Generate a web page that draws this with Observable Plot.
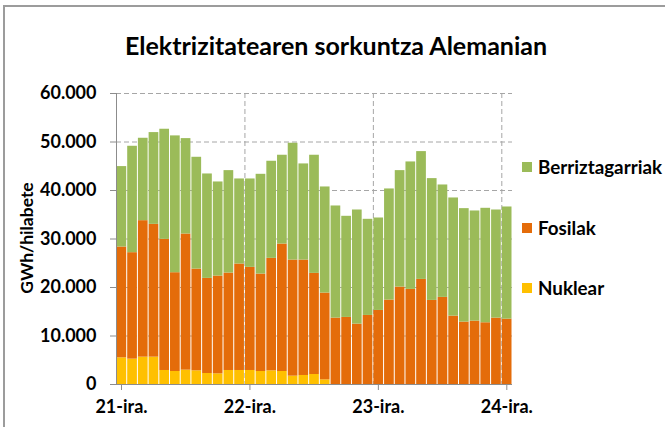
<!DOCTYPE html>
<html><head><meta charset="utf-8">
<script src="https://cdn.jsdelivr.net/npm/d3@7"></script>
<script src="https://cdn.jsdelivr.net/npm/@observablehq/plot@0.6"></script>
<style>
html,body{margin:0;padding:0;background:#fff;}
#wrap{position:relative;width:665px;height:427px;overflow:hidden;font-family:Lato,sans-serif;font-weight:bold;color:#000;}
#frame{position:absolute;left:3px;top:5px;width:700px;height:500px;border-left:2px solid #9c9c9c;border-top:2px solid #9c9c9c;box-sizing:border-box;}
#title{position:absolute;left:0;width:672px;top:30px;text-align:center;font-size:25px;line-height:30px;white-space:nowrap;}
#ylabel{position:absolute;left:27px;top:238px;width:0;height:0;}
#ylabel span{position:absolute;transform:translate(-50%,-50%) rotate(-90deg);white-space:nowrap;font-size:17.5px;line-height:20px;}
#legend{position:absolute;left:522px;top:0;font-size:18.8px;}
.item{position:absolute;left:0;white-space:nowrap;display:flex;align-items:center;line-height:22px;}
.sw{width:10px;height:10px;margin-right:6px;display:inline-block;}
#chart{position:absolute;left:0;top:0;}
</style></head>
<body>
<div id="wrap">
  <div id="frame"></div>
  <div id="chart"></div>
  <div id="title"></div>
  <div id="ylabel"><span></span></div>
  <div id="legend"></div>
</div>
<script>
const titleText = "Elektrizitatearen sorkuntza Alemanian";
const yLabel = "GWh/hilabete";
const tickPositions = [0, 12, 24, 36];
const tickLabels = ["21-ira.", "22-ira.", "23-ira.", "24-ira."];
const series = ["Nuklear", "Fosilak", "Berriztagarriak"];
const colors = ["#FFC000", "#E46C0A", "#9BBB59"];
const legendOrder = ["Berriztagarriak", "Fosilak", "Nuklear"];

// Monthly values, Sep 2021 .. Sep 2024 (GWh)
const nuclear = [5500, 5230, 5640, 5640, 2890, 2680, 2960, 2820, 2270, 2200, 2890, 2890,
  2890, 2680, 2820, 2680, 1720, 1860, 2060, 960, 0, 0, 0, 0,
  0, 0, 0, 0, 0, 0, 0, 0, 0, 0, 0, 0, 0];
const fossil = [22850, 21950, 28140, 27380, 27040, 20370, 28070, 20980, 19610, 20160, 20090, 21950,
  21260, 20090, 23190, 26280, 23940, 23800, 20850, 17890, 13690, 13830, 12450, 14240,
  15270, 17410, 20090, 19610, 21670, 17340, 17960, 14100, 12870, 13070, 12730, 13690, 13480];
const renewables = [16580, 21940, 16990, 18920, 22700, 28210, 19670, 23050, 21530, 19400, 21120, 17540,
  18230, 20570, 20020, 18310, 24080, 19820, 24360, 21880, 23120, 20850, 23530, 19820,
  19060, 22910, 24010, 26280, 26350, 25110, 23180, 24360, 23390, 22710, 23600, 22290, 23120];

const rows = [];
nuclear.forEach((v, i) => {
  rows.push({i, s: "Nuklear", v});
  rows.push({i, s: "Fosilak", v: fossil[i]});
  rows.push({i, s: "Berriztagarriak", v: renewables[i]});
});

const fmt = d3.formatLocale({decimal: ",", thousands: ".", grouping: [3], currency: ["", "€"]}).format(",");
const yTicks = d3.range(0, 60001, 10000);

const chart = Plot.plot({
  width: 665, height: 427,
  marginLeft: 116, marginRight: 153, marginTop: 93, marginBottom: 43,
  style: {fontFamily: "Lato, sans-serif", fontWeight: "bold", fontSize: "18px", color: "#000", background: "transparent", overflow: "visible"},
  x: {domain: [0, nuclear.length]},
  y: {domain: [0, 60000]},
  color: {domain: series, range: colors},
  marks: [
    Plot.gridY(yTicks.slice(1), {stroke: "#a6a6a6", strokeOpacity: 1, strokeDasharray: "5,3"}),
    Plot.gridX(tickPositions.slice(1), {stroke: "#a6a6a6", strokeOpacity: 1, strokeDasharray: "5,3"}),
    Plot.rectY(rows, {x1: "i", x2: d => d.i + 1, y: "v", fill: "s", insetLeft: 0.5, insetRight: 0.5}),
    Plot.ruleY([0], {stroke: "#8c8c8c"}),
    Plot.ruleX([0], {stroke: "#8c8c8c"}),
    Plot.axisY(yTicks, {tickFormat: fmt, tickSize: 6, tickPadding: 14, stroke: "#8c8c8c", label: null, fontSize: 18}),
    Plot.axisX(tickPositions, {tickFormat: d => tickLabels[tickPositions.indexOf(d)], tickSize: 6, tickPadding: 10,
      stroke: "#8c8c8c", label: null, dx: 5, fontSize: 18})
  ]
});
document.getElementById("chart").appendChild(chart);
document.getElementById("title").textContent = titleText;
document.querySelector("#ylabel span").textContent = yLabel;

const legend = document.getElementById("legend");
const legendTops = [156, 217, 277];
legendOrder.forEach((name, k) => {
  const it = document.createElement("div");
  it.className = "item";
  it.style.top = legendTops[k] + "px";
  const sw = document.createElement("span");
  sw.className = "sw";
  sw.style.background = colors[series.indexOf(name)];
  it.appendChild(sw);
  it.appendChild(document.createTextNode(name));
  legend.appendChild(it);
});
</script>
</body></html>
